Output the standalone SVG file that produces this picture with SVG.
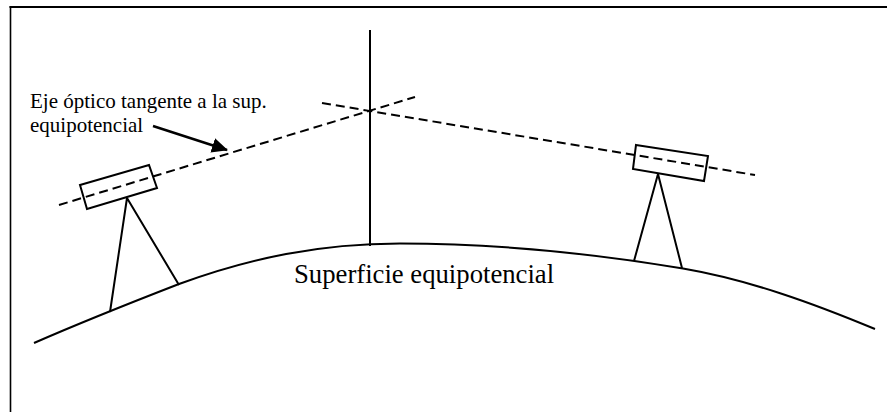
<svg xmlns="http://www.w3.org/2000/svg" width="887" height="412" viewBox="0 0 887 412">
<style>.l{fill:none;stroke:#000;stroke-width:2}.d{fill:none;stroke:#000;stroke-width:2;stroke-dasharray:9 5}text{font-family:"Liberation Serif",serif;fill:#000}</style>
<defs><marker id="a" markerUnits="userSpaceOnUse" markerWidth="16" markerHeight="15" refX="15" refY="7.500" orient="auto"><path d="M0 0L16 7.500L0 15Z"/></marker></defs>
<rect width="887" height="412" fill="#fff"/>
<path d="M9.500 7H887" fill="none" stroke="#000" stroke-width="2"/>
<path d="M10.500 6V412" fill="none" stroke="#000" stroke-width="1.600"/>
<g id="connectors">
<path class="l" d="M34 343C82 322 130 303 179 284C250 258 320 243.500 400 243.500C495 243.500 590 253 683 268.500C750 280 815 304 875 329"/>
<path class="l" d="M370 30V246"/>
<path class="d" d="M59 205L415 97"/>
<path class="d" d="M322 103L755 175"/>
<path class="l" d="M127 198L110 312M127 198L179 285"/>
<path class="l" d="M658 174L634 261M658 174L682 268"/>
<path d="M153 126L227 150" fill="none" stroke="#000" stroke-width="2.500" marker-end="url(#a)"/>
</g>
<g id="instrument-left"><path class="l" d="M80 185L149 165L157 188L87 209Z"/></g>
<g id="instrument-right"><path class="l" d="M636 145L708 156L704 181L633 169Z"/></g>
<g id="label-eje"><text x="30" y="108" font-size="21">Eje óptico tangente a la sup.</text><text x="30" y="132" font-size="21">equipotencial</text></g>
<g id="label-sup"><text x="294" y="283" font-size="26.700">Superficie equipotencial</text></g>
</svg>
